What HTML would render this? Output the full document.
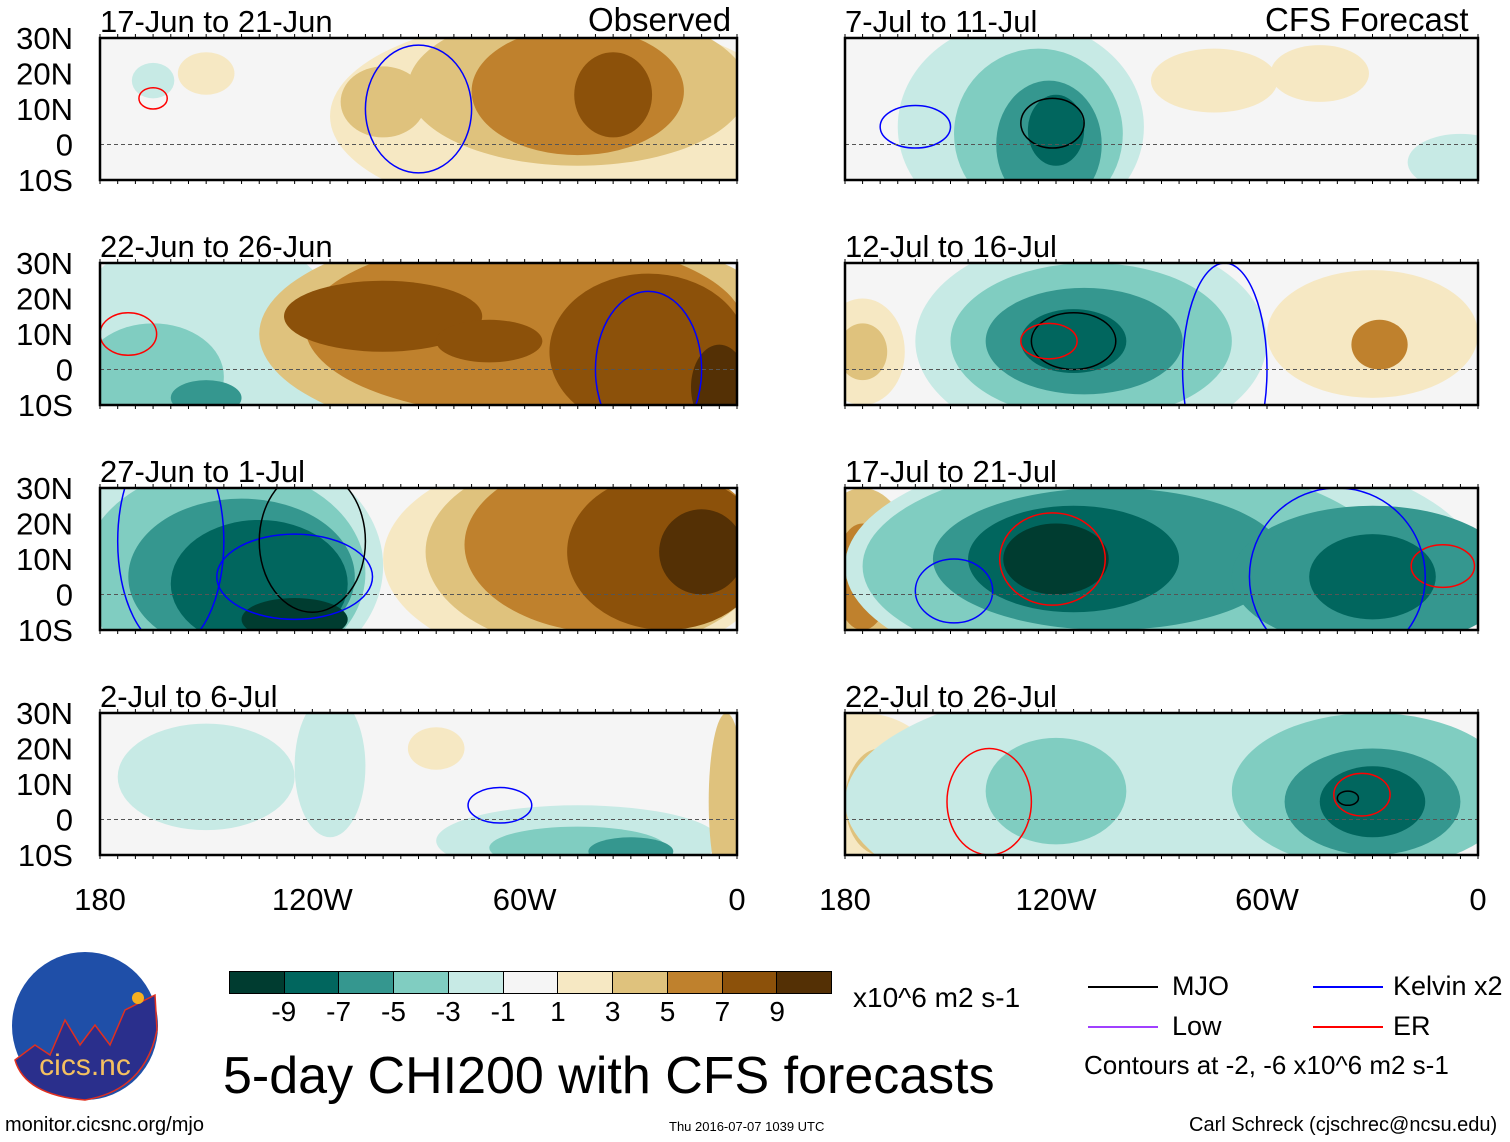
<!DOCTYPE html>
<html><head><meta charset="utf-8">
<style>
html,body{margin:0;padding:0;background:#fff;}
body{width:1510px;height:1142px;position:relative;overflow:hidden;font-family:"Liberation Sans",sans-serif;color:#000;}
.t{position:absolute;white-space:nowrap;line-height:1;}
svg{position:absolute;left:0;top:0;}
</style></head>
<body>
<svg id="maps" width="1510" height="1142" viewBox="0 0 1510 1142"></svg>

<div class="t" style="left:588px;top:3px;font-size:33px;">Observed</div>
<div class="t" style="left:1265px;top:3px;font-size:33px;">CFS Forecast</div>

<div id="cbar" style="position:absolute;left:229px;top:971px;width:603px;height:23px;display:flex;border:1px solid #000;box-sizing:border-box;"></div>
<div id="cbl"></div>
<div class="t" style="left:853px;top:984px;font-size:28px;">x10^6 m2 s-1</div>

<div>
  <div style="position:absolute;left:1088px;top:986px;width:70px;height:2px;background:#000;"></div>
  <div class="t" style="left:1172px;top:973px;font-size:27px;">MJO</div>
  <div style="position:absolute;left:1313px;top:986px;width:70px;height:2px;background:#0000ff;"></div>
  <div class="t" style="left:1393px;top:973px;font-size:27px;">Kelvin x2</div>
  <div style="position:absolute;left:1088px;top:1026px;width:70px;height:2px;background:#a040ff;"></div>
  <div class="t" style="left:1172px;top:1013px;font-size:27px;">Low</div>
  <div style="position:absolute;left:1313px;top:1026px;width:70px;height:2px;background:#ff0000;"></div>
  <div class="t" style="left:1393px;top:1013px;font-size:27px;">ER</div>
  <div class="t" style="left:1084px;top:1052px;font-size:26px;">Contours at -2, -6 x10^6 m2 s-1</div>
</div>

<div class="t" style="left:223px;top:1050px;font-size:52px;">5-day CHI200 with CFS forecasts</div>
<div class="t" style="left:5px;top:1115px;font-size:20px;">monitor.cicsnc.org/mjo</div>
<div class="t" style="left:669px;top:1120px;font-size:13px;">Thu 2016-07-07 1039 UTC</div>
<div class="t" style="left:1189px;top:1115px;font-size:20px;">Carl Schreck (cjschrec@ncsu.edu)</div>

<svg width="160" height="160" style="left:5px;top:950px;" viewBox="0 0 160 160">
  <ellipse cx="80" cy="76" rx="73" ry="74" fill="#1f4fa8"/>
  <path d="M10,110 L30,95 L45,105 L60,70 L75,95 L90,75 L105,95 L120,60 L150,45 L152,80 Q140,140 80,150 Q20,145 10,110Z" fill="#2a2f8c" stroke="#e03020" stroke-width="1.5"/>
  <circle cx="133" cy="48" r="6" fill="#f5b020"/>
  <text x="80" y="125" text-anchor="middle" font-family="Liberation Sans" font-size="30" fill="#f4c060">cics.nc</text>
</svg>

<script>
const levelColors=["#003c30","#01665e","#35978f","#80cdc1","#c7eae5","#f5f5f5","#f6e8c3","#dfc27d","#bf812d","#8c510a","#543005"];
const levelLabels=["-9","-7","-5","-3","-1","1","3","5","7","9"];
const cb=document.getElementById('cbar');
levelColors.forEach((c,i)=>{const d=document.createElement('div');


d.style.cssText='flex:1;background:'+c+';border-right:'+(i<10?'1px solid #000':'none');cb.appendChild(d);});
const cbl=document.getElementById('cbl');
levelLabels.forEach((l,i)=>{const d=document.createElement('div');d.className='t';


const x=229+(i+1)*603/11;d.textContent=l;d.style.cssText='left:'+(x-30)+'px;width:60px;text-align:center;top:998px;font-size:28px;';cbl.appendChild(d);});

const panelTitles=["17-Jun to 21-Jun","22-Jun to 26-Jun","27-Jun to 1-Jul","2-Jul to 6-Jul","7-Jul to 11-Jul","12-Jul to 16-Jul","17-Jul to 21-Jul","22-Jul to 26-Jul"];
// blobs: [lonW, lat, radiusLon, radiusLat, level]
const fields=[
 [[150,20,8,6,6],[50,8,65,28,6],[100,12,12,10,7],[45,16,48,22,7],[45,15,30,18,8],[35,14,11,12,9],[165,18,6,5,4]],
 [[150,5,40,35,4],[165,-2,20,15,3],[150,-8,10,5,2],[60,10,75,30,7],[60,12,62,25,8],[100,15,28,10,9],[25,5,28,22,9],[5,-5,8,12,10],[70,8,15,6,9]],
 [[145,8,45,35,4],[145,6,40,30,3],[140,5,32,22,2],[135,3,25,18,1],[125,-7,15,6,0],[45,10,55,30,6],[40,12,48,28,7],[35,14,42,25,8],[20,12,28,22,9],[10,12,12,12,10]],
 [[150,12,25,15,4],[115,15,10,20,4],[45,-6,40,10,4],[45,-8,25,6,3],[30,-9,12,4,2],[85,20,8,6,6],[3,5,5,25,7]],
 [[130,5,35,30,4],[125,3,24,24,3],[122,0,15,18,2],[120,4,8,10,1],[75,18,18,9,6],[45,20,14,8,6],[5,-5,15,8,4]],
 [[110,8,50,30,4],[110,8,40,22,3],[112,8,28,15,2],[115,8,15,9,1],[175,5,12,15,6],[175,5,7,8,7],[30,10,30,18,6],[28,7,8,7,8]],
 [[175,5,15,25,7],[175,5,8,15,8],[90,8,90,35,4],[100,8,75,30,3],[105,10,50,20,2],[115,10,30,15,1],[120,10,15,10,0],[30,5,40,20,2],[30,5,18,12,1]],
 [[175,5,25,25,6],[170,5,10,15,7],[90,5,90,35,4],[120,8,20,15,3],[30,8,40,22,3],[30,5,25,15,2],[30,5,15,10,1]]
];
// contours: [lonW, lat, radiusLon, radiusLat, type]  type: 0=MJO,1=Kelvin,2=ER
const contours=[
 [[90,10,15,18,1],[165,13,4,3,2]],
 [[25,0,15,22,1],[172,10,8,6,2]],
 [[160,15,15,30,1],[125,5,22,12,1],[120,15,15,20,0]],
 [[67,4,9,5,1]],
 [[160,5,10,6,1],[121,6,9,7,0]],
 [[115,8,12,8,0],[122,8,8,5,2],[72,0,12,30,1]],
 [[149,1,11,9,1],[121,10,15,13,2],[10,8,9,6,2],[40,5,25,25,1]],
 [[139,5,12,15,2],[33,7,8,6,2],[37,6,3,2,0]]
];
const lineCol=["#000","#0000ff","#ff0000"];
const svg=document.getElementById('maps');const NS='http://www.w3.org/2000/svg';
function el(t,a,p){const e=document.createElementNS(NS,t);for(const k in a)e.setAttribute(k,a[k]);(p||svg).appendChild(e);return e;}
const lefts=[100,845],widths=[637,633],tops=[38,263,488,713],H=142;
for(let p=0;p<8;p++){
 const col=p<4?0:1,row=p%4,x0=lefts[col],w=widths[col],y0=tops[row];
 const xs=lon=>x0+(180-lon)/180*w, ys=lat=>y0+(30-lat)/40*H;
 const g=el('g',{});
 
 
 el('clipPath',{id:'c'+p},g);el('rect',{x:x0,y:y0,width:w,height:H},g.lastChild);
 const fg=el('g',{'clip-path':'url(#c'+p+')'},g);
 el('rect',{x:x0,y:y0,width:w,height:H,fill:levelColors[5]},fg);
 fields[p].forEach(b=>{const e=el('ellipse',{cx:xs(b[0]),cy:ys(b[1]),rx:b[2]/180*w,ry:b[3]/40*H,fill:levelColors[b[4]]},fg);
  
  });
 contours[p].forEach(c=>{const e=el('ellipse',{cx:xs(c[0]),cy:ys(c[1]),rx:c[2]/180*w,ry:c[3]/40*H,fill:'none',stroke:lineCol[c[4]],'stroke-width':1.5},fg);
  
  });
 el('line',{x1:x0,x2:x0+w,y1:ys(0),y2:ys(0),stroke:'#555','stroke-dasharray':'4,3','stroke-width':1},g);
 el('rect',{x:x0,y:y0,width:w,height:H,fill:'none',stroke:'#000','stroke-width':2.5},g);
 for(let i=0;i<=36;i++){const x=x0+i*w/36;el('line',{x1:x,x2:x,y1:y0,y2:y0-4,stroke:'#000'},g);el('line',{x1:x,x2:x,y1:y0+H,y2:y0+H+4,stroke:'#000'},g);}
 const tt=el('text',{x:x0,y:y0-6,'font-size':31,'font-family':'Liberation Sans'},g);tt.textContent=panelTitles[p];
 
 
 if(col===0){["30N","20N","10N","0","10S"].forEach((l,i)=>{const t=el('text',{x:73,y:y0+i*H/4+11,'text-anchor':'end','font-size':31,'font-family':'Liberation Sans'},g);t.textContent=l;
  
  });}
 if(row===3){["180","120W","60W","0"].forEach((l,i)=>{const t=el('text',{x:x0+i*w/3,y:910,'text-anchor':'middle','font-size':31,'font-family':'Liberation Sans'},g);t.textContent=l;
  
  });}
}
</script>
</body></html>
